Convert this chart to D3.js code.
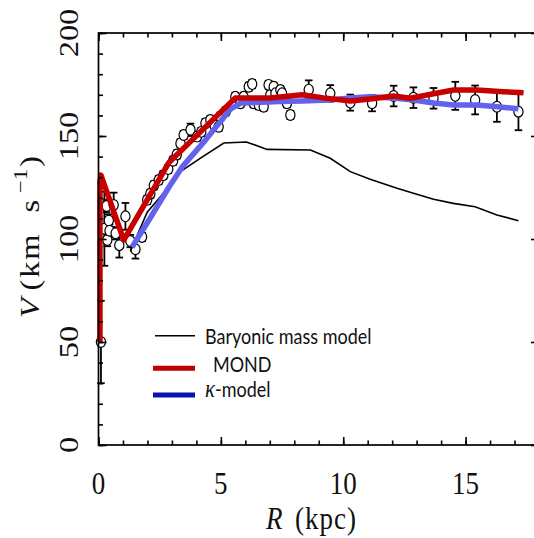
<!DOCTYPE html>
<html><head><meta charset="utf-8">
<script src="https://cdn.jsdelivr.net/npm/d3@7"></script>
<style>body{margin:0;background:#fff}svg{display:block}</style>
</head><body>
<svg id="chart" width="534" height="538"></svg>
<script>
// ---- data ----
const xTickValues = [0, 5, 10, 15];
const xTickLabels = ["0", "5", "10", "15"];
const yTickValues = [0, 50, 100, 150, 200];
const yTickLabels = ["0", "50", "100", "150", "200"];

const baryonR = [1.3, 1.99, 2.53, 3.35, 4.2, 5.12, 6.04, 6.89, 8.66, 9.47, 10.29, 11.1, 12.2, 12.87, 13.69, 14.5, 15.39, 16.28, 17.16];
const baryonV = [94, 113, 120.5, 132.7, 139.5, 146.6, 147.1, 143.5, 143.2, 139.2, 132.7, 129, 124.6, 122.2, 119.3, 117.3, 115.7, 111.7, 108.9];

const mondR = [0.06, 0.06, 0.1, 1.03, 2.87, 5.59, 7.02, 8.32, 9.2, 10.29, 11.1, 12.06, 12.74, 13.69, 14.51, 15.46, 16.55, 17.37];
const mondV = [50, 128, 131, 99.5, 137, 168.5, 168.5, 170, 168.5, 167, 168, 169.4, 168.3, 170.5, 172.3, 172.3, 171.5, 171];

const kappaR = [1.37, 2.05, 2.87, 3.42, 4.37, 4.98, 5.39, 5.8, 7.43, 8.32, 9.4, 10.29, 11.1, 12.06, 12.87, 13.69, 14.51, 15.46, 16.3, 17.16];
const kappaV = [96, 109, 125, 135, 148, 157, 163, 166, 166.7, 167, 167.5, 168.5, 169, 168.5, 167.5, 166, 165, 165, 164.2, 163.2];

const obsR = [0.1, 0.24, 0.33, 0.36, 0.42, 0.45, 0.62, 0.7, 0.85, 1.1, 1.3, 1.51,
  1.78, 1.99, 2.12, 2.26, 2.46, 2.65, 2.85, 3.05, 3.2, 3.35, 3.48, 3.76, 4.03, 4.2, 4.37, 4.57, 4.75, 4.91, 4.98, 5.2,
  5.59, 5.8, 5.93, 6.14, 6.28, 6.34, 6.55, 6.75, 6.95, 7.02, 7.16, 7.23, 7.43, 7.5, 7.7, 7.84,
  8.59, 9.47, 10.29, 11.18, 12.06, 12.87, 13.69, 14.58, 15.39, 16.28, 17.16];
const obsV = [50, 105, 116, 99.5, 109, 104, 116.5, 102.8, 97, 111, 99, 95,
  101, 119, 122, 126, 128.6, 131, 134, 138, 141, 146.4, 150.5, 153, 149.7, 152, 156.2, 157.8, 155, 154.5, 159.4, 162,
  169, 165.9, 169, 173.9, 175.2, 165.9, 165, 164.2, 174.8, 169.9, 173.9, 170.7, 172.3, 170.7, 165.9, 160.2,
  172.5, 170.7, 166.2, 165.9, 169.4, 168.6, 168.3, 169.5, 167.5, 164.2, 161.8];
const obsErr = [20, 18, 3, 3, 3, 3, 6, 3, 6, 6.5, 3, 4.5,
  2, 2, 2, 2, 2, 2, 2, 2, 2, 2, 2, 3, 2, 2, 2, 2, 2, 2, 2, 2,
  2, 2, 2, 2, 2, 2, 2, 2, 2, 2, 2, 2, 2, 2, 2, 2,
  4.5, 4, 3.9, 3.9, 5, 5, 5, 6.8, 7, 7.3, 9];

const legendLabels = ["Baryonic mass model", "MOND", "-model"];

// ---- drawing ----
const svg = d3.select("#chart");
const x = d3.scaleLinear().domain([0, 18]).range([98.5, 539]);
const y = d3.scaleLinear().domain([0, 200]).range([445, 33]);

const serif = "'Liberation Serif', 'Times New Roman', serif";
const sans = "Lato, Carlito, Calibri, 'Open Sans', sans-serif";

// observations: error bars then circles
const obs = obsR.map((r, i) => ({r, v: obsV[i], e: obsErr[i]}));
const eb = svg.append("g").attr("stroke", "#000").attr("stroke-width", 1.8).attr("fill", "none");
obs.forEach(d => {
  eb.append("line").attr("x1", x(d.r)).attr("x2", x(d.r)).attr("y1", y(d.v - d.e)).attr("y2", y(d.v + d.e));
  [d.v - d.e, d.v + d.e].forEach(vv => {
    eb.append("line").attr("x1", x(d.r) - 3.8).attr("x2", x(d.r) + 3.8).attr("y1", y(vv)).attr("y2", y(vv));
  });
});
svg.append("g").selectAll("ellipse").data(obs).join("ellipse")
  .attr("cx", d => x(d.r)).attr("cy", d => y(d.v))
  .attr("rx", 4.6).attr("ry", 5.4)
  .attr("fill", "#fff").attr("stroke", "#000").attr("stroke-width", 1.2);

const line = d3.line().x(d => x(d[0])).y(d => y(d[1]));

svg.append("path").datum(baryonR.map((r, i) => [r, baryonV[i]]))
  .attr("d", line).attr("fill", "none").attr("stroke", "#000").attr("stroke-width", 1.6);
svg.append("path").datum(kappaR.map((r, i) => [r, kappaV[i]]))
  .attr("d", line).attr("fill", "none").attr("stroke", "#6262ec").attr("stroke-width", 5.5)
  .attr("stroke-linejoin", "round");
svg.append("path").datum(mondR.map((r, i) => [r, mondV[i]]))
  .attr("d", line).attr("fill", "none").attr("stroke", "#c80000").attr("stroke-width", 5.5)
  .attr("stroke-linejoin", "round");

// frame
svg.append("rect").attr("x", x(0)).attr("y", y(200)).attr("width", x(18) - x(0)).attr("height", y(0) - y(200))
  .attr("fill", "none").attr("stroke", "#000").attr("stroke-width", 1.7);

// ticks (inward on all sides)
const xMinor = d3.range(0, 19, 1);
const yMinor = d3.range(0, 201, 10);
function addAxis(axisFn, scale, vals, size, transform) {
  const g = svg.append("g").attr("transform", transform)
    .call(axisFn(scale).tickValues(vals).tickSize(size).tickSizeOuter(0).tickFormat(""));
  g.select(".domain").remove();
  g.selectAll(".tick line").attr("stroke", "#000").attr("stroke-width", 1.6);
}
addAxis(d3.axisBottom, x, xMinor, -4.5, `translate(0,${y(0)})`);
addAxis(d3.axisBottom, x, xTickValues, -8, `translate(0,${y(0)})`);
addAxis(d3.axisTop, x, xMinor, -4.5, `translate(0,${y(200)})`);
addAxis(d3.axisTop, x, xTickValues, -8, `translate(0,${y(200)})`);
addAxis(d3.axisLeft, y, yMinor, -4.5, `translate(${x(0)},0)`);
addAxis(d3.axisLeft, y, yTickValues, -8, `translate(${x(0)},0)`);
addAxis(d3.axisRight, y, yMinor, -4.5, `translate(${x(18)},0)`);
addAxis(d3.axisRight, y, yTickValues, -8, `translate(${x(18)},0)`);

// tick labels
svg.append("g").selectAll("text").data(xTickValues).join("text")
  .attr("transform", d => `translate(${x(d)},494) scale(1,1.2)`)
  .attr("text-anchor", "middle").attr("font-family", serif).attr("font-size", 27).attr("fill", "#111")
  .text((d, i) => xTickLabels[i]);
svg.append("g").selectAll("text").data(yTickValues).join("text")
  .attr("transform", d => `translate(78,${y(d)}) scale(1,1.2) rotate(-90)`)
  .attr("text-anchor", "middle").attr("font-family", serif).attr("font-size", 27).attr("fill", "#111")
  .text((d, i) => yTickLabels[i]);

// axis titles
const xt = svg.append("text").attr("transform", "translate(266,529) scale(1,1.2)")
  .attr("font-family", serif).attr("font-size", 27).attr("fill", "#111");
xt.append("tspan").attr("x", 0).attr("font-style", "italic").text("R");
xt.append("tspan").attr("x", 29).attr("letter-spacing", 1).text("(kpc)");

const yt = svg.append("text").attr("transform", "translate(38.5,318) scale(1,1.2) rotate(-90)")
  .attr("font-family", serif).attr("font-size", 27).attr("fill", "#111");
yt.append("tspan").attr("x", 0).attr("font-style", "italic").text("V");
yt.append("tspan").attr("x", 23).attr("letter-spacing", 1.5).text("(km");
yt.append("tspan").attr("x", 88).text("s");
yt.append("tspan").attr("x", 104).attr("dy", -12).attr("font-size", 19).text("\u22121");
yt.append("tspan").attr("x", 126).attr("dy", 12).text(")");

// legend
const leg = svg.append("g");
leg.append("line").attr("x1", 155).attr("x2", 195).attr("y1", 335.7).attr("y2", 335.7)
  .attr("stroke", "#000").attr("stroke-width", 1.6);
leg.append("line").attr("x1", 153).attr("x2", 195).attr("y1", 368.3).attr("y2", 368.3)
  .attr("stroke", "#c00000").attr("stroke-width", 5);
leg.append("line").attr("x1", 153).attr("x2", 195).attr("y1", 395).attr("y2", 395)
  .attr("stroke", "#0a10b4").attr("stroke-width", 5);
leg.append("text").attr("transform", "translate(205,344) scale(1,1.2)")
  .attr("font-family", sans).attr("font-size", 18).attr("fill", "#111").text(legendLabels[0]);
leg.append("text").attr("transform", "translate(213,371.5) scale(1,1.2)")
  .attr("font-family", sans).attr("font-size", 18).attr("fill", "#111").text(legendLabels[1]);
const kt = leg.append("text").attr("transform", "translate(205,396.5) scale(1,1.2)")
  .attr("font-family", sans).attr("font-size", 18).attr("fill", "#111");
kt.append("tspan").attr("font-family", serif).attr("font-style", "italic").attr("font-size", 21).text("\u03ba");
kt.append("tspan").text(legendLabels[2]);
</script>
</body></html>
